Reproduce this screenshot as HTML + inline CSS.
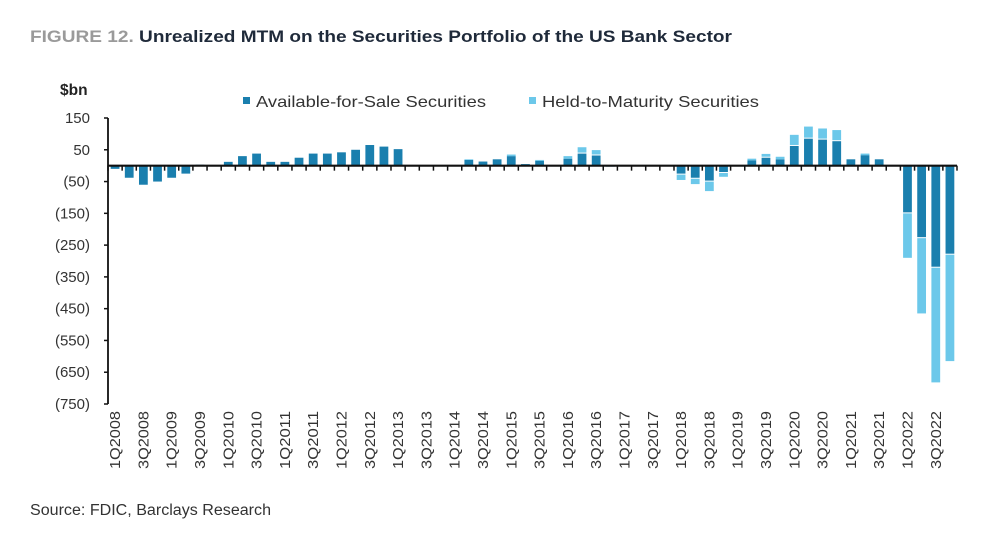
<!DOCTYPE html>
<html><head><meta charset="utf-8">
<style>
body{margin:0;background:#fff;width:1000px;height:536px;overflow:hidden;font-family:"Liberation Sans",sans-serif;}
</style></head>
<body>
<svg width="1000" height="536" viewBox="0 0 1000 536">
<text x="30" y="42" font-size="17" font-weight="bold" fill="#9a9a9a" textLength="702" lengthAdjust="spacingAndGlyphs">FIGURE 12. <tspan fill="#1f2a3a">Unrealized MTM on the Securities Portfolio of the US Bank Sector</tspan></text>
<text x="60" y="95" font-size="15.5" font-weight="bold" fill="#222">$bn</text>
<rect x="243" y="97" width="7" height="7" fill="#1a7fae"/>
<text x="256" y="107" font-size="16" fill="#333" textLength="230" lengthAdjust="spacingAndGlyphs">Available-for-Sale Securities</text>
<rect x="529" y="97" width="7" height="7" fill="#6cc8ea"/>
<text x="542" y="107" font-size="16" fill="#333" textLength="217" lengthAdjust="spacingAndGlyphs">Held-to-Maturity Securities</text>
<g id="plot"></g>
<text x="30" y="515" font-size="15.5" fill="#333" textLength="241" lengthAdjust="spacingAndGlyphs">Source: FDIC, Barclays Research</text>
</svg>
<script>
const quarters = [];
for (let y = 2008; y <= 2022; y++) for (let q = 1; q <= 4; q++) quarters.push(q + 'Q' + y);
const afs = [-10,-38,-60,-50,-38,-25,3,0,12,30,38,12,12,25,38,38,42,50,65,60,52,0,0,0,0,18,13,20,30,5,15,0,22,38,32,-3,0,0,0,0,-25,-38,-47,-20,0,17,25,20,62,85,82,77,20,33,20,0,-147,-225,-318,-277];
const htm = [0,0,0,0,0,0,0,0,0,0,0,0,0,0,0,0,0,0,0,0,0,0,0,0,0,2,0,0,5,0,3,0,8,20,17,0,0,0,0,0,-20,-20,-33,-15,0,5,12,8,35,38,35,35,0,5,0,0,-143,-240,-364,-338];
const yTicks = [150,50,-50,-150,-250,-350,-450,-550,-650,-750];
const x0 = 108, x1 = 957, yTop = 118, yBot = 404, vMax = 150, vMin = -750;
const n = quarters.length, step = (x1 - x0) / n;
const yS = v => yTop + (vMax - v) * (yBot - yTop) / (vMax - vMin);
const xS = i => x0 + step * (i + 0.5);
const g = document.getElementById('plot');
const NS = 'http://www.w3.org/2000/svg';
function mk(tag, attrs){const e=document.createElementNS(NS,tag);for(const k in attrs)e.setAttribute(k,attrs[k]);g.appendChild(e);return e;}
yTicks.forEach(t=>{
  const tx=mk('text',{x:90,y:yS(t)+5,'font-size':15,fill:'#333','text-anchor':'end'});
  tx.textContent = t<0 ? '('+(-t)+')' : String(t);
  
  
  const l=mk('line',{x1:x0-4,x2:x0,y1:yS(t),y2:yS(t),stroke:'#111','stroke-width':1.5});
  
  
});
const bw = step*0.62;
afs.forEach((a,i)=>{
  const h = htm[i];
  const y0 = yS(0);
  if (a!==0){
    const r=mk('rect',{x:xS(i)-bw/2,y:Math.min(y0,yS(a)),width:bw,height:Math.abs(yS(a)-y0),fill:'#1a7fae'});
    
    
  }
  if (h!==0){
    const ya=yS(a), yb=yS(a+h);
    const gap = Math.abs(yb-ya)>3?1:0;
    const top=Math.min(ya,yb), hh=Math.abs(yb-ya);
    const r=mk('rect',{x:xS(i)-bw/2,y:h>0?top:top+gap,width:bw,height:Math.max(hh-gap,0.5),fill:'#6cc8ea'});
    
    
  }
});
const ax=mk('line',{x1:x0,x2:x0,y1:yTop,y2:yBot,stroke:'#111','stroke-width':1.8});


const zx=mk('line',{x1:x0,x2:x1,y1:yS(0),y2:yS(0),stroke:'#111','stroke-width':2.2});


for(let i=0;i<=n;i++){
  const l=mk('line',{x1:x0+step*i,x2:x0+step*i,y1:yS(0),y2:yS(0)+5,stroke:'#111','stroke-width':1.5});
  
  
}
quarters.forEach((q,i)=>{
  if(i%2) return;
  const x=xS(i)+5, y=411;
  const t=mk('text',{x:x,y:y,'font-size':14.5,fill:'#333','text-anchor':'end',transform:`rotate(-90 ${x} ${y})`,textLength:58,lengthAdjust:'spacingAndGlyphs'});
  t.textContent=q;
  
  
});
</script>
</body></html>
